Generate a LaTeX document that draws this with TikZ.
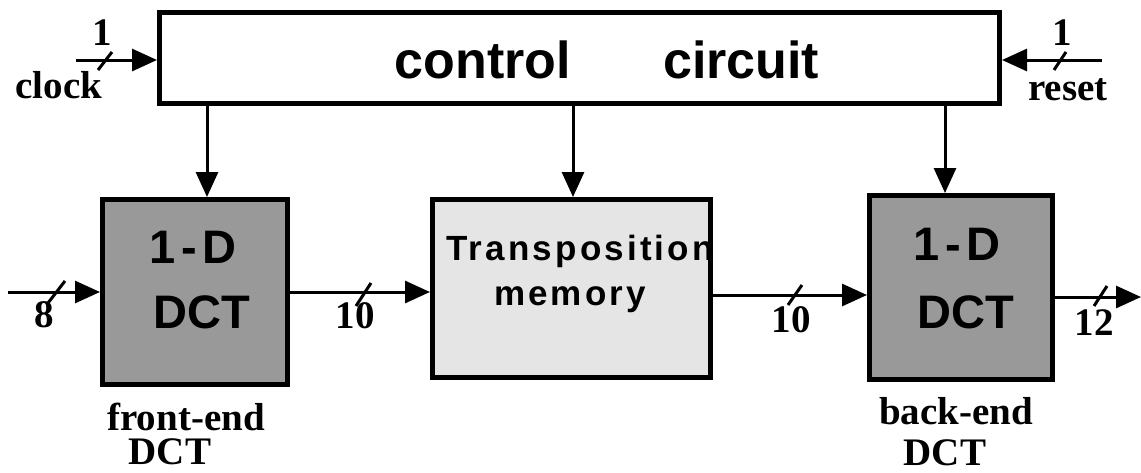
\documentclass[tikz,border=0pt]{standalone}
\usepackage{fontspec}
\setmainfont{Liberation Serif}
\newfontfamily\hv{Liberation Sans}
\newfontfamily\hvsp[LetterSpace=9]{Liberation Sans}
\usetikzlibrary{arrows.meta}
\begin{document}
\begin{tikzpicture}[x=1pt,y=-1pt,
  blk/.style={draw=black, line width=5pt, inner sep=0pt},
  dctbox/.style={blk, fill=black!40},
  membox/.style={blk, fill=black!10},
  conn/.style={line width=3pt, -{Triangle[length=25pt,width=22pt]}},
  tick/.style={line width=3pt},
  lbl/.style={font=\fontsize{39}{44}\selectfont\bfseries, inner sep=0pt, anchor=base},
  big/.style={font=\fontsize{52}{60}\selectfont\hv\bfseries, inner sep=0pt, anchor=base},
  dct/.style={font=\fontsize{47}{55}\selectfont\hv\bfseries, inner sep=0pt, anchor=base},
  mem/.style={font=\fontsize{35}{42}\selectfont\hvsp\bfseries, inner sep=0pt, anchor=base}]
\useasboundingbox (0,0) rectangle (1141,472);

% blocks
\node[blk, minimum width=840pt, minimum height=91pt] (ctl) at (579.5,58) {};
\node[dctbox, minimum width=185pt, minimum height=185pt] (fe) at (195,292) {};
\node[membox, minimum width=278pt, minimum height=178pt] (tm) at (571.5,288.5) {};
\node[dctbox, minimum width=183pt, minimum height=184pt] (be) at (961,287.5) {};

% block texts
\node[big] (ctltxt) at (607,78) {control\hspace{92pt}circuit};
\node[dct] (fe1) at (193,263) {1\kern6pt-\kern6pt D};
\node[dct] (fe2) at (202,328) {DCT};
\node[dct] (be1) at (957,260) {1\kern6pt-\kern6pt D};
\node[dct] (be2) at (966,328) {DCT};
\node[mem] (tm1) at (580,260) {Transposition};
\node[mem] (tm2) at (570,305) {memory};

% free ends
\coordinate (clk) at (76,60);
\coordinate (rst) at (1102,60);
\coordinate (in) at (8,292);
\coordinate (out) at (1141,297);
\coordinate (r2) at (0,295);
\coordinate (d1) at (207,0);
\coordinate (d2) at (573,0);
\coordinate (d3) at (945,0);

% connectors
\draw[conn] (clk) -- (clk -| ctl.west);
\draw[conn] (rst) -- (rst -| ctl.east);
\draw[conn] (ctl.south -| d1) -- (fe.north -| d1);
\draw[conn] (ctl.south -| d2) -- (tm.north -| d2);
\draw[conn] (ctl.south -| d3) -- (be.north -| d3);
\draw[conn] (in) -- (in -| fe.west);
\draw[conn] (fe.east) -- (fe.east -| tm.west);
\draw[conn] (tm.east |- r2) -- (be.west |- r2);
\draw[conn] (be.east |- out) -- (out);

% bus ticks
\draw[tick] (98,70) -- (112,52);
\draw[tick] (1054,70) -- (1066,52);
\draw[tick] (48,303) -- (65,281);
\draw[tick] (356,306) -- (371,283);
\draw[tick] (788,305) -- (802,285);
\draw[tick] (1094,306) -- (1107,286);

% labels
\node[lbl] (l1) at (102,45) {1};
\node[lbl] (lclk) at (59,98) {clock};
\node[lbl] (l2) at (1062,45) {1};
\node[lbl] (lrst) at (1068,100) {reset};
\node[lbl] (l8) at (44,327) {8};
\node[lbl] (l10a) at (355,328) {10};
\node[lbl] (l10b) at (791,332) {10};
\node[lbl] (l12) at (1094,335) {12};
\node[lbl] (lfe) at (186,430) {front-end};
\node[lbl] (lfe2) at (170,464) {DCT};
\node[lbl] (lbe) at (956,424) {back-end};
\node[lbl] (lbe2) at (945,465) {DCT};
\end{tikzpicture}
\end{document}
